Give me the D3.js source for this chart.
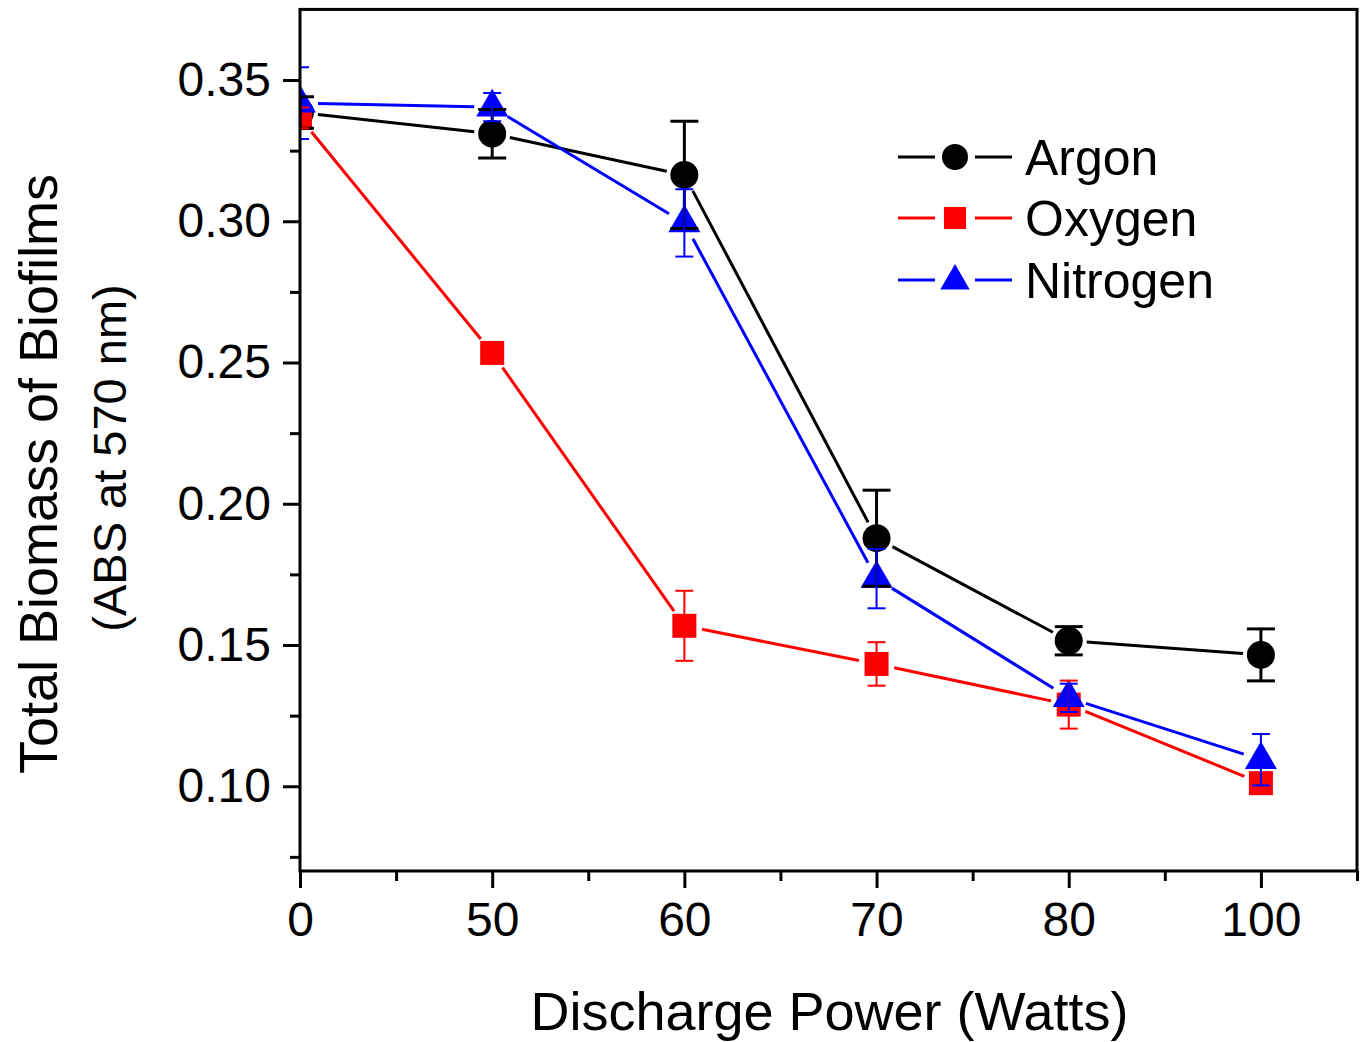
<!DOCTYPE html>
<html>
<head>
<meta charset="utf-8">
<script src="https://cdn.jsdelivr.net/npm/d3@7"></script>
<style>
  html, body { margin: 0; padding: 0; background: #fff; }
  svg { display: block; font-family: "Liberation Sans", Arial, sans-serif; }
</style>
</head>
<body>
<div id="chart"></div>
<script>
// categories on the x axis (Watts)
const powers = ["0", "50", "60", "70", "80", "100"];

// mean absorbance and error (+/-) per gas
const argonMean = [0.3385, 0.3310, 0.3164, 0.1878, 0.1515, 0.1465];
const argonErr = [0.0056, 0.0086, 0.0190, 0.0170, 0.0050, 0.0092];
const oxygenMean = [0.3366, 0.2534, 0.1568, 0.1433, 0.1289, 0.1011];
const oxygenErr = [0.0037, 0.0020, 0.0124, 0.0077, 0.0085, 0.0020];
const nitrogenMean = [0.3418, 0.3404, 0.2994, 0.1735, 0.1313, 0.1094];
const nitrogenErr = [0.0127, 0.0050, 0.0119, 0.0105, 0.0050, 0.0091];

const yTicks = [0.10, 0.15, 0.20, 0.25, 0.30, 0.35];
const yMinor = [0.075, 0.125, 0.175, 0.225, 0.275, 0.325];

const W = 1365, H = 1042;
const m = { left: 300, right: 1357, top: 9.4, bottom: 871 };

const svg = d3.select("#chart").append("svg")
    .attr("width", W)
    .attr("height", H);
svg.append("rect").attr("width", W).attr("height", H).attr("fill", "#fff");

const x = d3.scaleLinear().domain([0, 5.5]).range([m.left, m.right]);
const y = d3.scaleLinear().domain([0.07, 0.375]).range([m.bottom, m.top]);

const series = [
    { name: "Argon", mean: argonMean, err: argonErr, color: "#000000", shape: "circle", capW: 28, errW: 3 },
    { name: "Oxygen", mean: oxygenMean, err: oxygenErr, color: "#ff0000", shape: "square", capW: 18, errW: 2 },
    { name: "Nitrogen", mean: nitrogenMean, err: nitrogenErr, color: "#0000ff", shape: "triangle", capW: 18, errW: 2 }
];

function symbolPath(shape, scale) {
    if (shape === "circle") return d3.symbol(d3.symbolCircle, Math.PI * 14 * 14 * scale * scale)();
    if (shape === "square") return d3.symbol(d3.symbolSquare, 24 * 24 * scale * scale)();
    return d3.symbol(d3.symbolTriangle, Math.sqrt(3) / 4 * 32 * 32 * scale * scale)();
}

// clip data to the frame
svg.append("clipPath").attr("id", "plotClip")
    .append("rect")
    .attr("x", m.left).attr("y", m.top)
    .attr("width", m.right - m.left).attr("height", m.bottom - m.top);

const plot = svg.append("g").attr("clip-path", "url(#plotClip)");

// connecting lines, with a gap around each marker
const gap = 18;
series.forEach(s => {
    const pts = s.mean.map((v, i) => [x(i), y(v)]);
    for (let i = 0; i < pts.length - 1; i++) {
        const [x1, y1] = pts[i], [x2, y2] = pts[i + 1];
        const len = Math.hypot(x2 - x1, y2 - y1);
        const ux = (x2 - x1) / len, uy = (y2 - y1) / len;
        plot.append("line")
            .attr("x1", x1 + ux * gap).attr("y1", y1 + uy * gap)
            .attr("x2", x2 - ux * gap).attr("y2", y2 - uy * gap)
            .attr("stroke", s.color)
            .attr("stroke-width", 3);
    }
});

// markers
series.forEach(s => {
    plot.selectAll(null).data(s.mean).enter().append("path")
        .attr("transform", (d, i) => `translate(${x(i)},${y(d)})`)
        .attr("d", symbolPath(s.shape, 1))
        .attr("fill", s.color);
});

// error bars
series.forEach(s => {
    const g = plot.append("g").attr("stroke", s.color).attr("stroke-width", s.errW);
    s.mean.forEach((v, i) => {
        const cx = x(i), lo = y(v - s.err[i]), hi = y(v + s.err[i]);
        g.append("line").attr("x1", cx).attr("x2", cx).attr("y1", lo).attr("y2", hi);
        g.append("line").attr("x1", cx - s.capW / 2).attr("x2", cx + s.capW / 2).attr("y1", lo).attr("y2", lo);
        g.append("line").attr("x1", cx - s.capW / 2).attr("x2", cx + s.capW / 2).attr("y1", hi).attr("y2", hi);
    });
});

// frame
svg.append("rect")
    .attr("x", m.left).attr("y", m.top)
    .attr("width", m.right - m.left).attr("height", m.bottom - m.top)
    .attr("fill", "none").attr("stroke", "#000").attr("stroke-width", 3);

// y axis
const yAxis = svg.append("g").attr("transform", `translate(${m.left},0)`)
    .call(d3.axisLeft(y).tickValues(yTicks).tickSize(17).tickPadding(12)
        .tickFormat(d3.format(".2f")));
yAxis.select(".domain").remove();
yAxis.selectAll(".tick line").attr("stroke-width", 3);
yAxis.selectAll(".tick text").attr("font-size", 48).attr("fill", "#000")
    .attr("font-family", "Liberation Sans, Arial, sans-serif");
const yMinorAxis = svg.append("g").attr("transform", `translate(${m.left},0)`)
    .call(d3.axisLeft(y).tickValues(yMinor).tickSize(10).tickFormat(""));
yMinorAxis.select(".domain").remove();
yMinorAxis.selectAll(".tick line").attr("stroke-width", 3);

// x axis
const xAxis = svg.append("g").attr("transform", `translate(0,${m.bottom})`)
    .call(d3.axisBottom(x).tickValues(d3.range(powers.length)).tickSize(17).tickPadding(14)
        .tickFormat(i => powers[i]));
xAxis.select(".domain").remove();
xAxis.selectAll(".tick line").attr("stroke-width", 3);
xAxis.selectAll(".tick text").attr("font-size", 48).attr("fill", "#000")
    .attr("font-family", "Liberation Sans, Arial, sans-serif");
const xMinorAxis = svg.append("g").attr("transform", `translate(0,${m.bottom})`)
    .call(d3.axisBottom(x).tickValues(d3.range(0.5, 6, 1)).tickSize(10).tickFormat(""));
xMinorAxis.select(".domain").remove();
xMinorAxis.selectAll(".tick line").attr("stroke-width", 3);

// axis titles
svg.append("text")
    .attr("x", (m.left + m.right) / 2 + 1).attr("y", 1030)
    .attr("text-anchor", "middle")
    .attr("font-size", 54)
    .text("Discharge Power (Watts)");

svg.append("text")
    .attr("transform", "translate(57,474) rotate(-90)")
    .attr("text-anchor", "middle")
    .attr("font-size", 54)
    .text("Total Biomass of Biofilms");

svg.append("text")
    .attr("transform", "translate(126,458) rotate(-90)")
    .attr("text-anchor", "middle")
    .attr("font-size", 47)
    .text("(ABS at 570 nm)");

// legend
const legendY = [157, 218, 280];
const legend = svg.append("g");
series.forEach((s, i) => {
    const ly = legendY[i];
    legend.append("line").attr("x1", 898).attr("x2", 935).attr("y1", ly).attr("y2", ly)
        .attr("stroke", s.color).attr("stroke-width", 3);
    legend.append("line").attr("x1", 975).attr("x2", 1012).attr("y1", ly).attr("y2", ly)
        .attr("stroke", s.color).attr("stroke-width", 3);
    legend.append("path")
        .attr("transform", `translate(955,${s.shape === "triangle" ? ly + 1 : ly})`)
        .attr("d", symbolPath(s.shape, s.shape === "circle" ? 0.93 : 0.92))
        .attr("fill", s.color);
    legend.append("text")
        .attr("x", 1025).attr("y", ly + 18)
        .attr("font-size", 50)
        .text(s.name);
});
</script>
</body>
</html>
